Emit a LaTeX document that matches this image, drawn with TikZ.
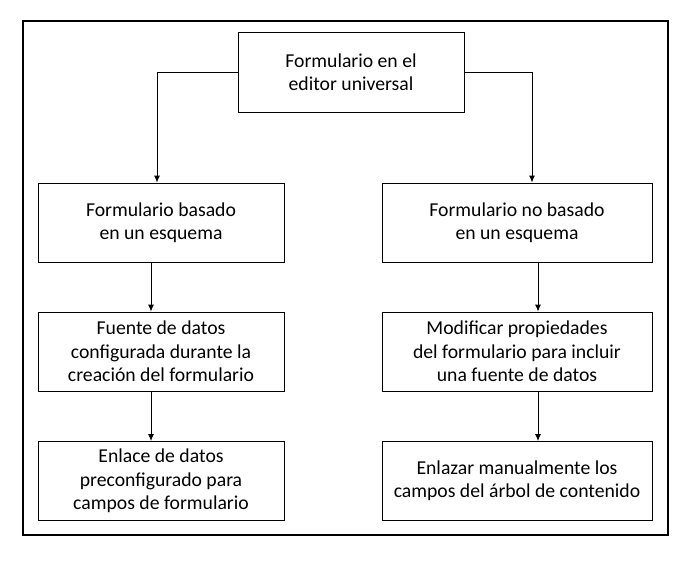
\documentclass[tikz,border=0pt]{standalone}
\usepackage{fontspec}
\setmainfont{Carlito}
\usetikzlibrary{arrows.meta}

\tikzset{
  stepbox/.style={draw, line width=0.9pt, minimum height=79pt, align=center,
    inner sep=0pt, font=\fontsize{19.7}{23.4}\selectfont},
  flow/.style={-{Latex[length=7pt,width=6pt]}, line width=0.9pt}
}

\begin{document}
\begin{tikzpicture}[x=1pt,y=-1pt]
\useasboundingbox (0,0) rectangle (692,563);
\draw[line width=2.6pt] (23,21) rectangle (668,535);

\node[stepbox, minimum width=226pt, minimum height=80pt] (top) at (351,72) {Formulario en el\\editor universal};

\node[stepbox, minimum width=246pt] (l1) at (161,222.5) {Formulario basado\\en un esquema};
\node[stepbox, minimum width=246pt] (l2) at (161,351.5) {Fuente de datos\\configurada durante la\\creación del formulario};
\node[stepbox, minimum width=246pt] (l3) at (161,481) {Enlace de datos\\preconfigurado para\\campos de formulario};

\node[stepbox, minimum width=270pt] (r1) at (517,222.5) {Formulario no basado\\en un esquema};
\node[stepbox, minimum width=270pt] (r2) at (517,351.5) {Modificar propiedades\\del formulario para incluir\\una fuente de datos};
\node[stepbox, minimum width=270pt] (r3) at (517,481) {Enlazar manualmente los\\campos del árbol de contenido};

\coordinate (lb) at (157,72);
\coordinate (rb) at (532,72);
\coordinate (lx) at (151,0);
\coordinate (rx) at (538,0);

\draw[flow] (top.west) -- (lb) -- (lb |- l1.north);
\draw[flow] (top.east) -- (rb) -- (rb |- r1.north);
\draw[flow] (l1.south -| lx) -- (l2.north -| lx);
\draw[flow] (l2.south -| lx) -- (l3.north -| lx);
\draw[flow] (r1.south -| rx) -- (r2.north -| rx);
\draw[flow] (r2.south -| rx) -- (r3.north -| rx);

\end{tikzpicture}
\end{document}
